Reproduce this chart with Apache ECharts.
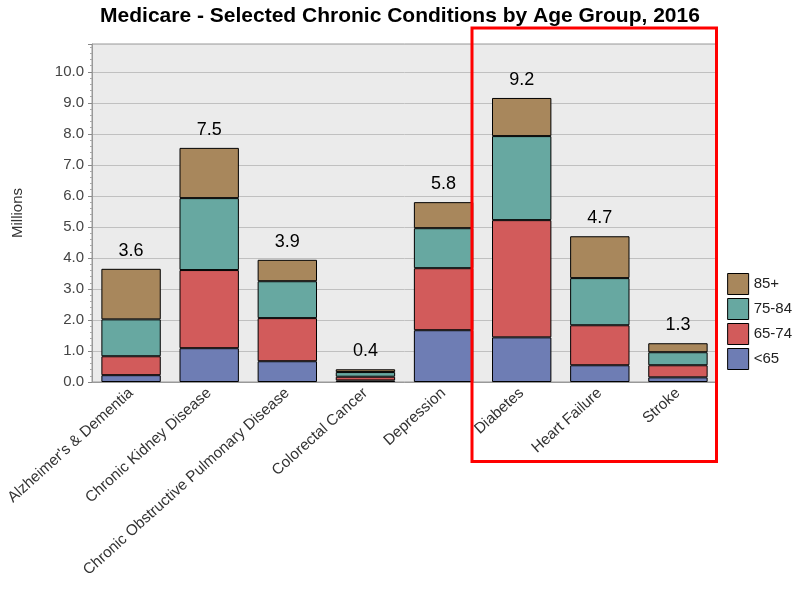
<!DOCTYPE html>
<html><head><meta charset="utf-8">
<script src="https://cdn.jsdelivr.net/npm/echarts@6/dist/echarts.min.js"></script>
<style>html,body{margin:0;padding:0;background:#fff}#c{width:800px;height:600px}</style>
</head><body><div id="c"></div>
<script>
const categories = ["Alzheimer's & Dementia","Chronic Kidney Disease","Chronic Obstructive Pulmonary Disease","Colorectal Cancer","Depression","Diabetes","Heart Failure","Stroke"];
const under65 = [0.22, 1.09, 0.67, 0.05, 1.67, 1.44, 0.54, 0.15];
const age65_74 = [0.61, 2.52, 1.39, 0.12, 2.00, 3.78, 1.29, 0.39];
const age75_84 = [1.19, 2.32, 1.19, 0.15, 1.29, 2.71, 1.52, 0.42];
const age85plus = [1.63, 1.62, 0.69, 0.09, 0.84, 1.23, 1.35, 0.29];
const totals = ["3.6","7.5","3.9","0.4","5.8","9.2","4.7","1.3"];
const yTicks = [0,1,2,3,4,5,6,7,8,9,10];

const FONT = '"Liberation Sans", Arial, sans-serif';
const colors = {u65:'#6e7db4', a65:'#d25b5b', a75:'#67a8a1', a85:'#a8875c'};
const chart = echarts.init(document.getElementById('c'));
function seg(name, data, color, extra){
  return Object.assign({
    name, type:'bar', stack:'total', data, barCategoryGap:'24%',
    itemStyle:{color, borderColor:'#000', borderWidth:1}
  }, extra||{});
}
chart.setOption({
  animation:false,
  textStyle:{fontFamily:FONT},
  title:{text:'Medicare - Selected Chronic Conditions by Age Group, 2016', left:'center', top:1,
    textStyle:{fontFamily:FONT, fontSize:21, fontWeight:'bold', color:'#000'}},
  grid:{left:92, right:83, top:44, bottom:218, show:true, backgroundColor:'#ebebeb', borderColor:'#999', borderWidth:1},
  legend:{orient:'vertical', right:3, top:268, itemWidth:21, itemHeight:21, itemGap:3,
    data:['85+','75-84','65-74','<65'], icon:'rect',
    itemStyle:{borderColor:'#000', borderWidth:1},
    textStyle:{fontFamily:FONT, fontSize:15, color:'#222', padding:[4,0,0,0]}},
  xAxis:{type:'category', data:categories,
    axisLine:{lineStyle:{color:'#999'}}, axisTick:{show:false},
    axisLabel:{rotate:42, interval:0, fontFamily:FONT, fontSize:15.3, color:'#333', margin:9}},
  yAxis:{type:'value', min:0, max:10.9, interval:1, name:'Millions', nameLocation:'middle', nameGap:67,
    nameTextStyle:{fontFamily:FONT, fontSize:15, color:'#333'},
    axisLine:{show:true, lineStyle:{color:'#999'}},
    axisTick:{show:true, length:4, lineStyle:{color:'#888'}},
    minorTick:{show:true, splitNumber:5, length:2, lineStyle:{color:'#aaa'}},
    splitLine:{lineStyle:{color:'#c0c0c0'}},
    axisLabel:{fontFamily:FONT, fontSize:15, color:'#444', showMaxLabel:false,
      formatter:v => yTicks.indexOf(v)>=0 ? v.toFixed(1) : ''}},
  series:[
    seg('<65', under65, colors.u65),
    seg('65-74', age65_74, colors.a65),
    seg('75-84', age75_84, colors.a75),
    seg('85+', age85plus, colors.a85, {label:{show:true, position:'top', distance:9,
      fontFamily:FONT, fontSize:18, color:'#000', formatter:p => totals[p.dataIndex]}})
  ],
  graphic:[{type:'rect', shape:{x:472, y:28, width:244.5, height:433.5},
    style:{fill:'none', stroke:'#ff0000', lineWidth:3}, z:100}]
});
</script></body></html>
